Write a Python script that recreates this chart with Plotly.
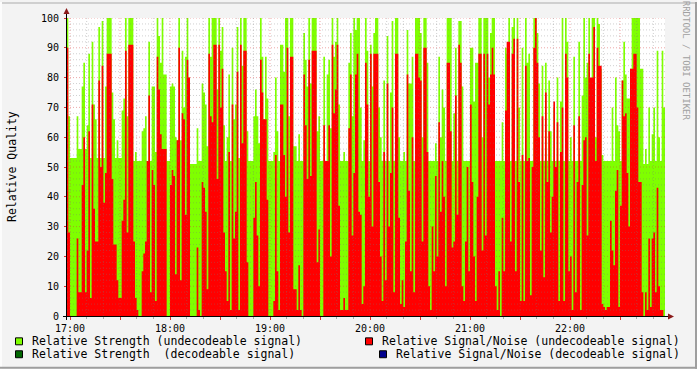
import plotly.graph_objects as go
from datetime import datetime, timedelta

# ---- data (one value per minute, starting 16:58) ----
strength_undecodeable = [
    100, 67, 53, 53, 53, 53, 67, 56, 56, 77, 85, 56, 64, 88, 53, 92, 71, 66, 53, 97, 53, 99, 53, 77, 100, 100, 100, 75, 66, 53,
    59, 53, 53, 69, 73, 100, 67, 100, 100, 100, 52, 55, 52, 52, 52, 62, 63, 67, 52, 92, 52, 77, 77, 55, 100, 94, 85, 100, 81, 81,
    52, 52, 77, 78, 77, 60, 59, 100, 59, 89, 70, 87, 100, 80, 51, 51, 51, 51, 63, 52, 52, 78, 75, 71, 57, 100, 87, 100, 100, 100,
    76, 100, 89, 97, 64, 52, 60, 81, 52, 90, 66, 71, 97, 53, 100, 84, 100, 100, 62, 52, 52, 52, 67, 76, 67, 58, 100, 87, 66, 87,
    73, 52, 52, 52, 55, 80, 62, 52, 91, 91, 82, 100, 100, 67, 100, 100, 57, 57, 52, 61, 52, 52, 95, 86, 77, 100, 78, 100, 100, 100,
    62, 67, 52, 52, 87, 52, 81, 86, 63, 100, 87, 92, 100, 71, 52, 52, 55, 52, 52, 85, 95, 67, 100, 96, 100, 100, 70, 52, 59, 100,
    89, 52, 91, 77, 95, 100, 100, 70, 60, 52, 79, 52, 94, 52, 75, 99, 52, 100, 100, 60, 52, 52, 55, 52, 96, 78, 78, 87, 52, 100,
    100, 100, 95, 60, 100, 100, 85, 52, 52, 52, 52, 58, 52, 87, 60, 76, 70, 52, 100, 100, 100, 52, 68, 90, 52, 99, 99, 77, 52, 52,
    52, 52, 90, 90, 72, 85, 85, 100, 100, 60, 100, 100, 100, 80, 95, 100, 100, 52, 52, 52, 52, 65, 52, 90, 88, 100, 52, 97, 100, 52,
    100, 70, 52, 90, 52, 100, 85, 88, 52, 52, 100, 100, 95, 78, 52, 84, 52, 85, 52, 79, 62, 52, 70, 52, 80, 52, 72, 100, 52, 100,
    92, 52, 60, 52, 87, 52, 52, 92, 52, 74, 100, 80, 85, 100, 72, 100, 100, 60, 100, 98, 83, 54, 52, 52, 52, 52, 52, 70, 52, 80,
    64, 62, 52, 79, 92, 81, 73, 73, 83, 100, 100, 100, 100, 100, 83, 83, 51, 56, 51, 70, 52, 61, 70, 52, 89, 60, 52, 89, 70,
]

snr_undecodeable = [
    90, 28, 0, 0, 0, 0, 26, 8, 8, 44, 60, 8, 22, 62, 6, 71, 36, 25, 25, 79, 50, 84, 38, 48, 88, 88, 88, 46, 24, 24,
    12, 6, 6, 32, 39, 89, 28, 91, 91, 91, 25, 6, 2, 0, 0, 15, 21, 25, 52, 74, 8, 49, 44, 5, 87, 76, 61, 56, 56, 56,
    0, 0, 44, 49, 47, 14, 59, 90, 12, 68, 66, 34, 86, 80, 0, 0, 0, 0, 23, 2, 0, 45, 43, 35, 9, 88, 67, 65, 91, 91,
    46, 91, 70, 83, 28, 15, 5, 55, 2, 71, 26, 35, 82, 2, 91, 58, 89, 89, 18, 0, 0, 0, 33, 45, 27, 10, 86, 75, 66, 66,
    39, 0, 0, 0, 5, 54, 15, 2, 71, 71, 54, 40, 90, 28, 87, 87, 9, 9, 2, 17, 2, 0, 81, 64, 46, 86, 47, 89, 89, 89,
    18, 29, 0, 0, 64, 52, 52, 64, 20, 91, 68, 76, 91, 37, 2, 2, 6, 2, 2, 63, 81, 27, 48, 81, 88, 35, 34, 4, 10, 85,
    71, 40, 88, 30, 88, 88, 88, 45, 20, 5, 55, 12, 78, 30, 48, 70, 8, 88, 88, 33, 4, 12, 3, 25, 81, 42, 15, 60, 8, 88,
    88, 80, 79, 25, 90, 90, 55, 10, 2, 30, 15, 47, 20, 65, 35, 52, 40, 10, 85, 85, 62, 23, 25, 74, 34, 91, 85, 10, 5, 25,
    50, 15, 71, 45, 20, 5, 40, 88, 88, 22, 88, 27, 88, 71, 81, 90, 81, 10, 2, 15, 0, 33, 15, 69, 92, 92, 25, 88, 93, 15,
    93, 45, 5, 54, 5, 84, 52, 53, 7, 50, 90, 100, 85, 60, 22, 67, 13, 75, 45, 62, 28, 40, 72, 50, 65, 5, 55, 70, 5, 88,
    80, 15, 20, 2, 64, 8, 45, 67, 2, 44, 59, 60, 27, 88, 80, 80, 97, 52, 90, 84, 84, 4, 3, 2, 3, 3, 32, 22, 17, 42,
    49, 3, 37, 79, 67, 68, 48, 30, 83, 83, 88, 88, 70, 45, 45, 8, 0, 8, 2, 26, 3, 26, 28, 8, 43, 10, 2, 2, 0,
]

x_tick_labels = ["17:00", "18:00", "19:00", "20:00", "21:00", "22:00"]
y_tick_values = [0, 10, 20, 30, 40, 50, 60, 70, 80, 90, 100]

legend_labels = [
    "Relative Strength (undecodeable signal)",
    "Relative Signal/Noise (undecodeable signal)",
    "Relative Strength  (decodeable signal)",
    "Relative Signal/Noise (decodeable signal)",
]
legend_colors = ["#7FFF00", "#FF0000", "#006600", "#00008C"]

# ---- geometry ----
W, H = 697, 369
L, R, T, B = 67, 665, 16, 316
FONT = "DejaVu Sans Mono"

def px(x):
    return (x - L) / (R - L)

def py(y):
    return (B - y) / (B - T)

start = datetime(2024, 1, 1, 16, 58)
times = [start + timedelta(minutes=i) for i in range(len(strength_undecodeable) + 1)]

fig = go.Figure()
fig.add_trace(go.Scatter(
    x=times, y=strength_undecodeable + [strength_undecodeable[-1]],
    mode="lines", line=dict(width=0, shape="hv"), fill="tozeroy",
    fillcolor="#7FFF00", hoverinfo="skip", showlegend=False))
fig.add_trace(go.Scatter(
    x=times, y=snr_undecodeable + [snr_undecodeable[-1]],
    mode="lines", line=dict(width=0, shape="hv"), fill="tozeroy",
    fillcolor="#FF0000", hoverinfo="skip", showlegend=False))

x0 = datetime(2024, 1, 1, 16, 58, 12)
x1 = datetime(2024, 1, 1, 22, 57, 0)

shapes = []
# horizontal grid
for v in range(2, 101, 2):
    major = v % 10 == 0
    shapes.append(dict(type="line", xref="paper", yref="y", x0=0, x1=1, y0=v, y1=v,
                       line=dict(color="rgba(215,60,60,0.45)" if major else "rgba(120,120,120,0.35)",
                                 width=1, dash="1px,2px"), layer="above"))
# vertical grid every 10 minutes
t = datetime(2024, 1, 1, 17, 0)
while t < x1:
    major = t.minute in (0, 30)
    shapes.append(dict(type="line", xref="x", yref="paper", x0=t, x1=t, y0=0, y1=1,
                       line=dict(color="rgba(215,60,60,0.45)" if major else "rgba(120,120,120,0.35)",
                                 width=1, dash="1px,2px"), layer="above"))
    t += timedelta(minutes=10)

# axes lines
shapes.append(dict(type="line", xref="paper", yref="paper", x0=px(63), x1=px(670), y0=py(316.5), y1=py(316.5),
                   line=dict(color="#000000", width=1), layer="above"))
shapes.append(dict(type="line", xref="paper", yref="paper", x0=px(66.5), x1=px(66.5), y0=py(320), y1=py(10),
                   line=dict(color="#000000", width=1), layer="above"))
# arrows
shapes.append(dict(type="path", xref="paper", yref="paper",
                   path=f"M {px(63.5)} {py(12)} L {px(69.5)} {py(12)} L {px(66.5)} {py(6)} Z",
                   fillcolor="#8B1A1A", line=dict(width=0), layer="above"))
shapes.append(dict(type="path", xref="paper", yref="paper",
                   path=f"M {px(668)} {py(313.5)} L {px(668)} {py(319.5)} L {px(674)} {py(316.5)} Z",
                   fillcolor="#8B1A1A", line=dict(width=0), layer="above"))
# frame
shapes.append(dict(type="line", xref="paper", yref="paper", x0=px(0), x1=px(W), y0=py(1), y1=py(1),
                   line=dict(color="#CFCFCF", width=2)))
shapes.append(dict(type="line", xref="paper", yref="paper", x0=px(1), x1=px(1), y0=py(0), y1=py(H),
                   line=dict(color="#FCFCFC", width=2)))
shapes.append(dict(type="line", xref="paper", yref="paper", x0=px(0), x1=px(W), y0=py(H - 1), y1=py(H - 1),
                   line=dict(color="#9E9E9E", width=2)))
shapes.append(dict(type="line", xref="paper", yref="paper", x0=px(W - 1), x1=px(W - 1), y0=py(0), y1=py(H),
                   line=dict(color="#9E9E9E", width=2)))

# legend
annotations = []
legend_pos = [(15, 341.5, 30), (365, 341.5, 380), (15, 354.5, 30), (379, 354.5, 394)]
for (bx, ty, tx), lab, col in zip(legend_pos, legend_labels, legend_colors):
    shapes.append(dict(type="rect", xref="paper", yref="paper",
                       x0=px(bx + 0.5), x1=px(bx + 7.5), y0=py(ty - 3.5), y1=py(ty + 3.5),
                       fillcolor=col, line=dict(color="#000000", width=1)))
    annotations.append(dict(xref="paper", yref="paper", x=px(tx), y=py(ty), text=lab,
                            showarrow=False, xanchor="left", yanchor="middle",
                            font=dict(family=FONT, size=11.5, color="#000000")))

annotations.append(dict(xref="paper", yref="paper", x=px(12), y=py(166), text="Relative Quality",
                        textangle=-90, showarrow=False, xanchor="center", yanchor="middle",
                        font=dict(family=FONT, size=11.5, color="#000000")))
annotations.append(dict(xref="paper", yref="paper", x=px(686), y=py(59), text="RRDTOOL / TOBI OETIKER",
                        textangle=90, showarrow=False, xanchor="center", yanchor="middle",
                        font=dict(family=FONT, size=9, color="#A0A0A0")))

hour_ticks = [datetime(2024, 1, 1, 17 + i, 0) for i in range(len(x_tick_labels))]
half_ticks = [h + timedelta(minutes=30) for h in hour_ticks]
tickvals = []
ticktext = []
for h, hh, lab in zip(hour_ticks, half_ticks, x_tick_labels):
    tickvals += [h, hh]
    ticktext += [lab, ""]

fig.update_layout(
    width=W, height=H,
    margin=dict(l=L, r=W - R, t=T, b=H - B, pad=0),
    paper_bgcolor="#F3F3F3", plot_bgcolor="#FFFFFF",
    showlegend=False,
    xaxis=dict(range=[x0, x1], tickmode="array", tickvals=tickvals, ticktext=ticktext,
               showgrid=False, zeroline=False, showline=False,
               ticks="outside", ticklen=3, tickcolor="#E03030", tickwidth=1,
               minor=dict(dtick=600000, tick0=datetime(2024, 1, 1, 17, 0), ticks="outside",
                          ticklen=2, tickcolor="#AAAAAA", showgrid=False),
               tickfont=dict(family=FONT, size=10, color="#000000"), fixedrange=True),
    yaxis=dict(range=[0, 100], tickmode="array", tickvals=y_tick_values,
               showgrid=False, zeroline=False, showline=False,
               ticks="outside", ticklen=2, tickcolor="#E03030",
               ticklabelstandoff=3,
               tickfont=dict(family=FONT, size=10, color="#000000"), fixedrange=True),
    shapes=shapes,
    annotations=annotations,
)

fig.write_html("out.html", config={"displayModeBar": False},
               post_script="document.body.style.margin='0';document.body.style.overflow='hidden';")
